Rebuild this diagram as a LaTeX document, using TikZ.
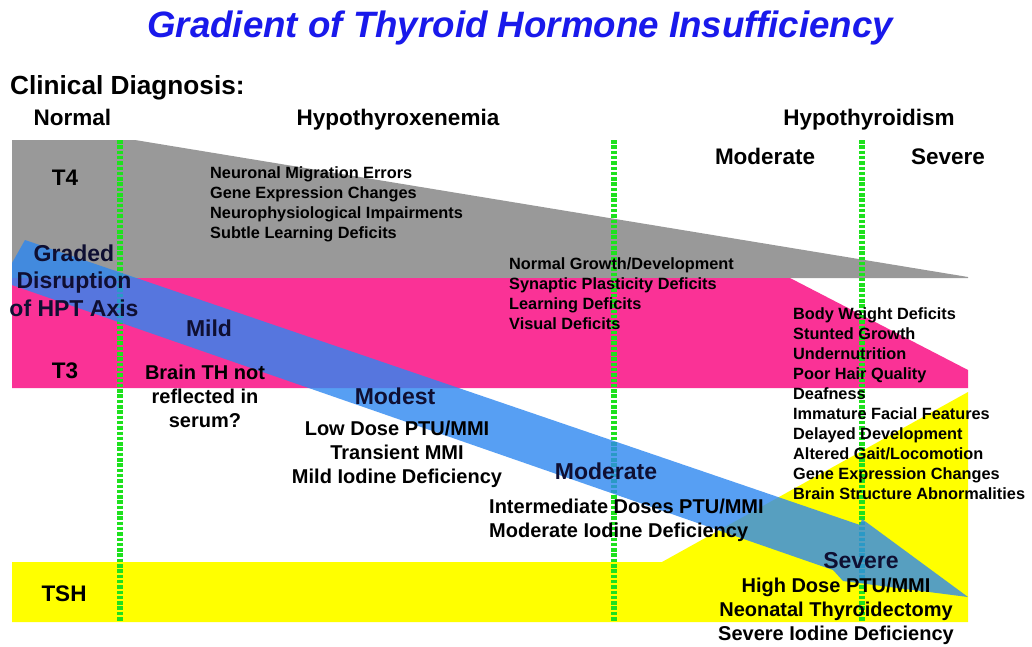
\documentclass[tikz,border=0pt]{standalone}
\usepackage{fontspec}
\setmainfont{Liberation Sans}
\definecolor{tgray}{RGB}{153,153,153}
\definecolor{tpink}{RGB}{250,50,150}
\definecolor{tyellow}{RGB}{255,255,0}
\definecolor{tgreen}{RGB}{30,225,30}
\definecolor{tblue}{RGB}{45,135,240}
\definecolor{ttitle}{RGB}{25,25,235}
\definecolor{tnavy}{RGB}{15,15,50}
\begin{document}
\begin{tikzpicture}[x=1pt,y=-1pt,
  head/.style={inner sep=0pt, font=\bfseries\fontsize{22.5}{27}\selectfont, anchor=base},
  lst/.style={inner sep=0pt, font=\bfseries\fontsize{16.3}{20}\selectfont, anchor=north west, align=left},
  sub/.style={inner sep=0pt, font=\bfseries\fontsize{20}{24}\selectfont, align=center, anchor=north},
  arrtxt/.style={inner sep=0pt, font=\bfseries\fontsize{23}{27.5}\selectfont, text=tnavy},
  gdot/.style={draw=tgreen, line width=5.5pt, dash pattern=on 3.5pt off 1.8pt},
  arrowband/.style={fill=tblue, fill opacity=0.8}
]
\useasboundingbox (0,0) rectangle (1032,646);
\fill[white] (0,0) rectangle (1032,646);

% bands
\fill[tgray] (12,140) -- (135,140) -- (968,277) -- (968,278) -- (12,278) -- cycle;
\fill[tpink] (12,278) -- (790,278) -- (968,370) -- (968,388) -- (12,388) -- cycle;
\fill[tyellow] (12,562) -- (662,562) -- (968,392) -- (968,622) -- (12,622) -- cycle;

% green dotted lines
\coordinate (g1t) at (120,140); \coordinate (g1b) at (120,622);
\coordinate (g2t) at (614,140); \coordinate (g2b) at (614,622);
\coordinate (g3t) at (862,140); \coordinate (g3b) at (862,622);
\draw[gdot] (g1t) -- (g1b);
\draw[gdot] (g2t) -- (g2b);
\draw[gdot] (g3t) -- (g3b);

% graded arrow
\fill[arrowband] (25,240) -- (860,525) -- (862,519) -- (968,597) -- (843,581) -- (833,570) -- (12,285) -- (12,263) -- cycle;

% title and headings
\node[inner sep=0pt, anchor=base, text=ttitle, font=\bfseries\itshape\fontsize{36.7}{40}\selectfont] (title) at (520,37) {Gradient of Thyroid Hormone Insufficiency};
\node[inner sep=0pt, anchor=base west, font=\bfseries\fontsize{26.2}{30}\selectfont] (clin) at (10,94) {Clinical Diagnosis:};
\node[head] (normal) at (72.5,125) {Normal};
\node[head] (hypox) at (398,125) {Hypothyroxenemia};
\node[head] (hypot) at (869,125) {Hypothyroidism};
\node[head] (modtop) at (765,164) {Moderate};
\node[head] (sevtop) at (948,164) {Severe};
\node[head] (t4) at (65,185) {T4};
\node[head] (t3) at (65,378) {T3};
\node[head] (tsh) at (64,601) {TSH};

% lists
\node[lst] (l1) at (210,166.5) {Neuronal Migration Errors\\Gene Expression Changes\\Neurophysiological Impairments\\Subtle Learning Deficits};
\node[lst] (l2) at (509,257.5) {Normal Growth/Development\\Synaptic Plasticity Deficits\\Learning Deficits\\Visual Deficits};
\node[lst] (l3) at (793,307.5) {Body Weight Deficits\\Stunted Growth\\Undernutrition\\Poor Hair Quality\\Deafness\\Immature Facial Features\\Delayed Development\\Altered Gait/Locomotion\\Gene Expression Changes\\Brain Structure Abnormalities};

% arrow labels
\node[arrtxt, align=center, anchor=north] (graded) at (74,244.5) {Graded\\Disruption\\of HPT Axis};
\node[arrtxt, anchor=base] (mild) at (209,336) {Mild};
\node[arrtxt, anchor=base] (modest) at (395,404) {Modest};
\node[arrtxt, anchor=base] (moderate) at (606,479) {Moderate};
\node[arrtxt, anchor=base] (severe) at (861,568) {Severe};

% sub lists
\node[sub] (brain) at (205,364.6) {Brain TH not\\reflected in\\serum?};
\node[sub] (lowdose) at (397,420.6) {Low Dose PTU/MMI\\Transient MMI\\Mild Iodine Deficiency};
\node[sub, align=left, anchor=north west] (inter) at (489,498.6) {Intermediate Doses PTU/MMI\\Moderate Iodine Deficiency};
\node[sub] (high) at (836,577.6) {High Dose PTU/MMI\\Neonatal Thyroidectomy\\Severe Iodine Deficiency};
\end{tikzpicture}
\end{document}
